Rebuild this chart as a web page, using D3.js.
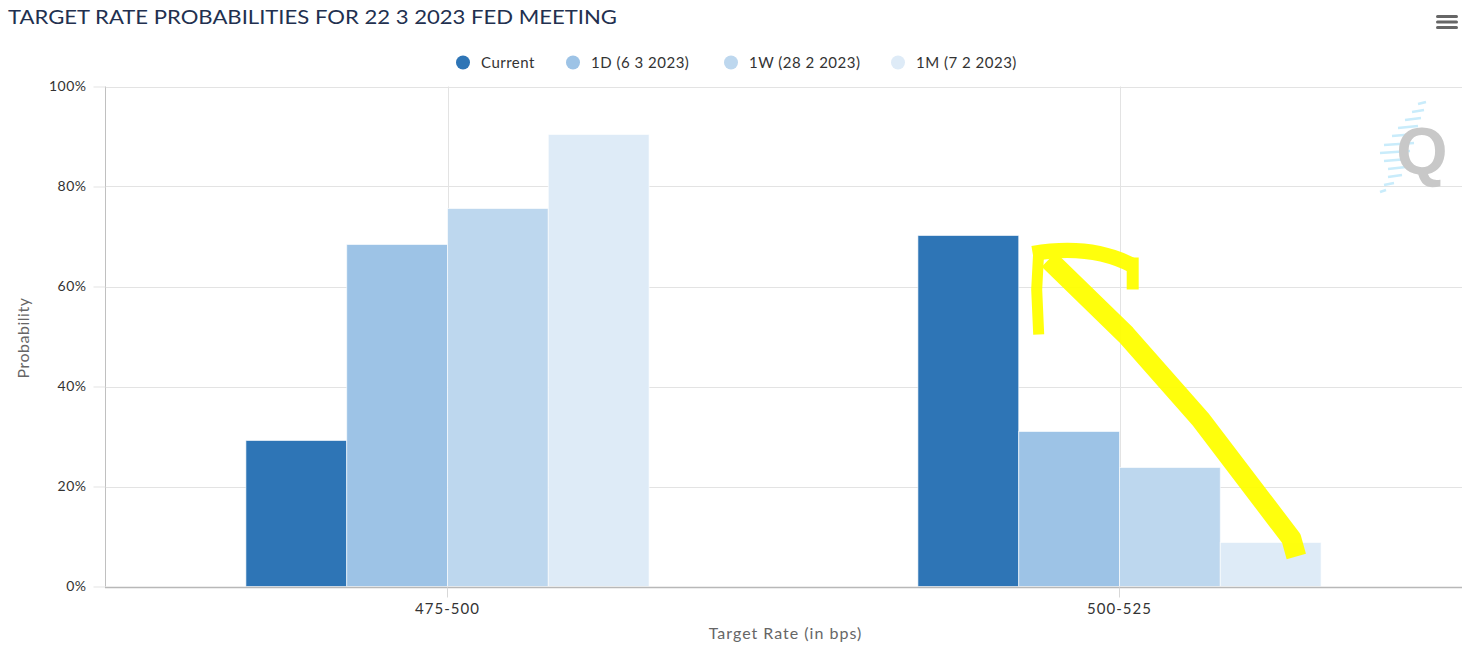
<!DOCTYPE html>
<html>
<head>
<meta charset="utf-8">
<script src="https://cdn.jsdelivr.net/npm/d3@7"></script>
<style>
  html, body { margin: 0; padding: 0; background: #fff; }
  svg { display: block; font-family: Lato, "Open Sans", sans-serif; }
</style>
</head>
<body>
<svg id="chart" width="1470" height="648"></svg>
<script>
// ---- data ----
const categories = ["475-500", "500-525"];
const seriesNames = ["Current", "1D (6 3 2023)", "1W (28 2 2023)", "1M (7 2 2023)"];
const seriesColors = ["#2e75b6", "#9dc3e6", "#bdd7ee", "#deebf7"];
const currentValues = [29.2, 70.2];
const oneDayValues = [68.4, 31.0];
const oneWeekValues = [75.6, 23.8];
const oneMonthValues = [90.4, 8.8];
const yTicks = [0, 20, 40, 60, 80, 100];
const titleText = "TARGET RATE PROBABILITIES FOR 22 3 2023 FED MEETING";
const xTitle = "Target Rate (in bps)";
const yTitle = "Probability";

const seriesValues = [currentValues, oneDayValues, oneWeekValues, oneMonthValues];

const svg = d3.select("#chart");
const plot = { left: 105, right: 1462, top: 86.5, bottom: 586.5 };

const y = d3.scaleLinear().domain([0, 100]).range([plot.bottom, plot.top]);
const x = d3.scaleBand().domain(categories).range([111.5, 1455.5]).padding(0);
const bw = x.bandwidth();
const xs = d3.scaleBand().domain(seriesNames).range([bw * 0.2, bw * 0.8]).padding(0);

// title
svg.append("text")
  .attr("x", 8).attr("y", 24)
  .attr("font-size", 20).attr("fill", "#22304f")
  .attr("textLength", 609).attr("lengthAdjust", "spacingAndGlyphs")
  .text(titleText);

// hamburger
const hb = svg.append("g").attr("fill", "#666");
[0, 1, 2].forEach(i => hb.append("rect").attr("x", 1436).attr("y", 15 + i * 5.5).attr("width", 22).attr("height", 3).attr("rx", 1.5));

// horizontal gridlines
svg.append("g").selectAll("line").data(yTicks).join("line")
  .attr("x1", plot.left).attr("x2", plot.right)
  .attr("y1", d => Math.round(y(d)) + 0.5).attr("y2", d => Math.round(y(d)) + 0.5)
  .attr("stroke", "#e3e3e3").attr("stroke-width", 1);

// vertical gridlines at category centers
svg.append("g").selectAll("line").data(categories).join("line")
  .attr("x1", d => Math.round(x(d) + bw / 2) + 0.5).attr("x2", d => Math.round(x(d) + bw / 2) + 0.5)
  .attr("y1", plot.top).attr("y2", plot.bottom)
  .attr("stroke", "#e3e3e3");

// watermark logo
const logo = svg.append("g");
const stripes = [[1418, 104, 8], [1412, 112, 12], [1405, 120, 16], [1398, 128, 20], [1392, 136, 24], [1384, 145, 30], [1380, 153, 30], [1384, 161, 24], [1388, 169, 18], [1388, 177, 14], [1384, 185, 10], [1380, 192, 6]];
stripes.forEach(s => logo.append("line").attr("x1", s[0]).attr("x2", s[0] + s[2]).attr("y1", s[1]).attr("y2", s[1] - 2)
  .attr("stroke", "#c9ecfb").attr("stroke-width", 2.5));
logo.append("text").attr("x", 1422).attr("y", 174).attr("text-anchor", "middle")
  .attr("font-size", 66).attr("font-weight", "bold").attr("font-family", "Liberation Sans, Arial, sans-serif")
  .attr("fill", "#c8c8c8").text("Q");

// bars
const bars = svg.append("g");
seriesNames.forEach((s, si) => {
  bars.append("g").selectAll("rect").data(categories).join("rect")
    .attr("x", (c) => x(c) + xs(s))
    .attr("y", (c, i) => y(seriesValues[si][i]))
    .attr("width", xs.bandwidth())
    .attr("height", (c, i) => y(0) - y(seriesValues[si][i]))
    .attr("fill", seriesColors[si])
    .attr("stroke", "rgba(255,255,255,0.6)").attr("stroke-width", 1);
});

// y axis
const yAxisG = svg.append("g").attr("transform", `translate(${plot.left + 0.5},0)`)
  .call(d3.axisLeft(y).tickValues(yTicks).tickFormat(d => d + "%").tickSize(12).tickPadding(7));
yAxisG.select(".domain").attr("stroke", "#c0c0c0").attr("d", `M0,${plot.top}V${plot.bottom}`);
yAxisG.selectAll(".tick line").attr("stroke", "#e3e3e3");
yAxisG.selectAll(".tick text").attr("font-size", 14).attr("letter-spacing", 0.5).attr("fill", "#333").attr("font-family", "Lato, sans-serif");

// x axis
const xAxisG = svg.append("g").attr("transform", `translate(0,${Math.round(plot.bottom) + 0.5})`)
  .call(d3.axisBottom(x).tickSize(10).tickPadding(6));
xAxisG.select(".domain").attr("stroke", "#b8b8b8").attr("stroke-width", 1.5).attr("d", `M${plot.left},0H${plot.right}`);
xAxisG.selectAll(".tick line").attr("stroke", "#d8d8d8");
xAxisG.selectAll(".tick text").attr("font-size", 15).attr("letter-spacing", 1).attr("fill", "#333").attr("font-family", "Lato, sans-serif");

// axis titles
svg.append("text").attr("x", (plot.left + plot.right) / 2 + 2).attr("y", 639).attr("text-anchor", "middle")
  .attr("font-size", 16).attr("letter-spacing", 1).attr("fill", "#666").text(xTitle);
svg.append("text").attr("transform", "translate(29,338) rotate(-90)").attr("text-anchor", "middle")
  .attr("font-size", 16).attr("letter-spacing", 0.5).attr("fill", "#666").text(yTitle);

// legend
const legendX = [463, 573, 731, 898];
const lg = svg.append("g");
seriesNames.forEach((s, i) => {
  lg.append("circle").attr("cx", legendX[i]).attr("cy", 62.5).attr("r", 7).attr("fill", seriesColors[i]);
  lg.append("text").attr("x", legendX[i] + 18).attr("y", 67.5).attr("font-size", 15).attr("letter-spacing", 0.5).attr("fill", "#333").text(s);
});

// yellow hand-drawn arrow annotation, anchored to the bars
const tipX = x(categories[1]) + xs(seriesNames[1]) + 22;
const tipY = y(currentValues[1]) + 24;
const tailX = x(categories[1]) + xs(seriesNames[3]) + 76;
const tailY = y(oneMonthValues[1]) + 14;
const ann = svg.append("g").attr("fill", "none").attr("stroke", "#ffff00").attr("stroke-linecap", "butt").attr("stroke-linejoin", "round").attr("opacity", 0.95);
ann.append("path").attr("stroke-width", 20)
  .attr("d", `M${tailX},${tailY} L${tailX - 5},${tailY - 18} L${tipX + 160},${tipY + 160} L${tipX + 85},${tipY + 75} L${tipX + 8},${tipY}`);
ann.append("path").attr("stroke-width", 11)
  .attr("d", `M${tipX - 2},${tipY + 75} L${tipX - 4},${tipY + 30} L${tipX - 2},${tipY - 8}`);
ann.append("path").attr("stroke-width", 15)
  .attr("d", `M${tipX - 8},${tipY - 6} Q${tipX + 50},${tipY - 16} ${tipX + 92},${tipY + 6}`);
ann.append("path").attr("stroke-width", 12).attr("d", `M${tipX + 92},${tipY - 2} L${tipX + 92},${tipY + 30}`);
</script>
</body>
</html>
